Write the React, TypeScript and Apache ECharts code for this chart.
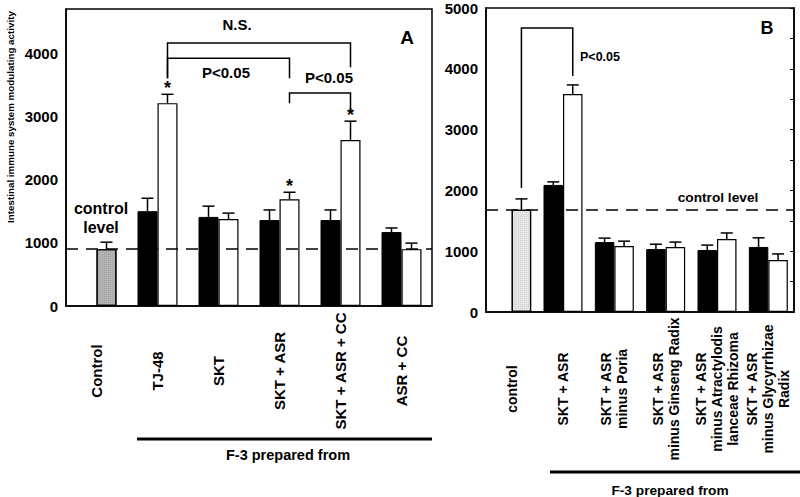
import React, { useEffect, useRef } from "react";
import * as echarts from "echarts";

// ---------- Panel A data ----------
const catsA = ["Control", "TJ-48", "SKT", "SKT + ASR", "SKT + ASR + CC", "ASR + CC"];
const controlA = [900, null, null, null, null, null];
const controlErrA = [110, null, null, null, null, null];
const blackA = [null, 1500, 1410, 1360, 1360, 1170];
const blackErrA = [null, 205, 170, 160, 160, 65];
const whiteA = [null, 3210, 1375, 1690, 2625, 900];
const whiteErrA = [null, 140, 95, 110, 300, 95];
const starsA = [0, 1, 0, 1, 1, 0];
const yMaxA = 4700;
// brackets: [cat1, slot1, end1, cat2, slot2, end2, top]
const bracketsA = [
  [1, 1, 3605, 4, 1, 3780, 4160],
  [1, 1, 3605, 3, 1, 3605, 3920],
  [3, 1, 3210, 4, 1, 3065, 3370],
];

// ---------- Panel B data ----------
const catsB = [
  "control",
  "SKT + ASR",
  "SKT + ASR\nminus Poria",
  "SKT + ASR\nminus Ginseng Radix",
  "SKT + ASR\nminus Atractylodis\nlanceae Rhizoma",
  "SKT + ASR\nminus Glycyrrhizae\nRadix",
];
const controlB = [1680, null, null, null, null, null];
const controlErrB = [180, null, null, null, null, null];
const blackB = [null, 2090, 1150, 1035, 1020, 1070];
const blackErrB = [null, 50, 65, 80, 80, 150];
const whiteB = [null, 3585, 1085, 1070, 1200, 855];
const whiteErrB = [null, 150, 80, 80, 100, 100];
const yMaxB = 5000;
const bracketsB = [[0, 1, 2040, 1, 1, 3880, 4670]];

const FONT = "Liberation Sans";
const BW_A = 20;
const BW_B = 19.5;

function errItems(vals: (number | null)[], errs: (number | null)[], slot: number, stars?: number[]) {
  const out: number[][] = [];
  vals.forEach((v, i) => {
    if (v != null && errs[i] != null) out.push([i, v, errs[i] as number, slot, stars ? stars[i] : 0]);
  });
  return out;
}

function makeErrRender(bw: number) {
  return (params: any, api: any) => {
    const c = api.value(0);
    const v = api.value(1);
    const e = api.value(2);
    const slot = api.value(3);
    const star = api.value(4);
    const base = api.coord([c, v]);
    const top = api.coord([c, v + e]);
    const x = base[0] + (slot * bw) / 2;
    const children: any[] = [
      { type: "line", shape: { x1: x, y1: base[1], x2: x, y2: top[1] }, style: { stroke: "#000", lineWidth: 1.5 } },
      { type: "line", shape: { x1: x - 6, y1: top[1], x2: x + 6, y2: top[1] }, style: { stroke: "#000", lineWidth: 1.5 } },
    ];
    if (star) {
      children.push({
        type: "text",
        x: x,
        y: top[1] + 3,
        style: { text: "*", fontSize: 18, fontWeight: "bold", fontFamily: FONT, fill: "#000", align: "center", verticalAlign: "bottom" },
      });
    }
    return { type: "group", children };
  };
}

function makeBracketRender(bw: number) {
  return (params: any, api: any) => {
    const a = api.coord([api.value(0), api.value(2)]);
    const t = api.coord([api.value(0), api.value(6)]);
    const b = api.coord([api.value(3), api.value(5)]);
    const xa = a[0] + (api.value(1) * bw) / 2;
    const xb = b[0] + (api.value(4) * bw) / 2;
    return {
      type: "polyline",
      shape: { points: [[xa, a[1]], [xa, t[1]], [xb, t[1]], [xb, b[1]]] },
      style: { stroke: "#000", lineWidth: 1.5, fill: null },
    };
  };
}

export default function App() {
  const ref = useRef<HTMLDivElement>(null);

  useEffect(() => {
    if (!ref.current) return;
    const chart = echarts.init(ref.current, null, { renderer: "svg" });

    const axisLabelY = {
      color: "#000",
      fontSize: 15,
      fontWeight: "bold",
      fontFamily: FONT,
      margin: 8,
      formatter: (v: number) => String(v),
    };
    const blackLine = { show: true, lineStyle: { color: "#000", width: 1.5 } };

    const option: any = {
      animation: false,
      backgroundColor: "#fff",
      grid: [
        { left: 66, right: 368, top: 9, bottom: 191, show: true, borderColor: "#000", borderWidth: 1.5, backgroundColor: "transparent" },
        { left: 486, right: 6, top: 8, bottom: 185, show: true, borderColor: "#000", borderWidth: 1.5, backgroundColor: "transparent" },
      ],
      xAxis: [
        {
          type: "category",
          gridIndex: 0,
          data: catsA,
          axisLine: blackLine,
          axisTick: { show: false },
          axisLabel: {
            interval: 0,
            rotate: 90,
            align: "center",
            verticalAlign: "middle",
            margin: 65,
            color: "#000",
            fontSize: 15,
            fontWeight: "bold",
            fontFamily: FONT,
          },
        },
        {
          type: "category",
          gridIndex: 1,
          data: catsB,
          axisLine: blackLine,
          axisTick: { show: false },
          axisLabel: {
            interval: 0,
            rotate: 90,
            align: "center",
            verticalAlign: "middle",
            margin: 77,
            color: "#000",
            fontSize: 14,
            lineHeight: 16,
            fontWeight: "bold",
            fontFamily: FONT,
          },
        },
      ],
      yAxis: [
        {
          type: "value",
          gridIndex: 0,
          min: 0,
          max: yMaxA,
          interval: 1000,
          axisLine: blackLine,
          axisTick: { show: false },
          splitLine: { show: false },
          axisLabel: { ...axisLabelY, showMaxLabel: false },
        },
        {
          type: "value",
          gridIndex: 1,
          min: 0,
          max: yMaxB,
          interval: 1000,
          axisLine: blackLine,
          axisTick: { show: false },
          splitLine: { show: false },
          axisLabel: axisLabelY,
        },
        {
          type: "value",
          gridIndex: 1,
          position: "right",
          min: 0,
          max: yMaxB,
          interval: 500,
          axisLine: blackLine,
          axisTick: { show: true, inside: true, length: 4, lineStyle: { color: "#000", width: 1 } },
          splitLine: { show: false },
          axisLabel: { show: false },
        },
      ],
      series: [
        // ----- Panel A -----
        {
          type: "line",
          xAxisIndex: 0,
          yAxisIndex: 0,
          data: [],
          z: 1,
          markLine: {
            silent: true,
            symbol: "none",
            label: { show: false },
            lineStyle: { color: "#000", width: 1.5, type: [12, 8] },
            data: [{ yAxis: controlA[0] }],
          },
        },
        {
          type: "bar",
          xAxisIndex: 0,
          yAxisIndex: 0,
          data: blackA,
          barWidth: BW_A,
          barGap: "0%",
          z: 3,
          itemStyle: { color: "#000", borderColor: "#000", borderWidth: 1 },
        },
        {
          type: "bar",
          xAxisIndex: 0,
          yAxisIndex: 0,
          stack: "wA",
          data: whiteA,
          barWidth: BW_A,
          barGap: "0%",
          z: 3,
          itemStyle: { color: "#fff", borderColor: "#000", borderWidth: 1.2 },
        },
        {
          type: "bar",
          xAxisIndex: 0,
          yAxisIndex: 0,
          stack: "wA",
          data: controlA,
          barWidth: BW_A,
          barGap: "0%",
          z: 3,
          itemStyle: {
            color: "#b4b4b4",
            borderColor: "#000",
            borderWidth: 1.2,
            decal: { symbol: "rect", symbolSize: 0.6, dashArrayX: [1, 1], dashArrayY: [1, 1], color: "rgba(60,60,60,0.55)", rotation: 0 },
          },
        },
        {
          type: "custom",
          xAxisIndex: 0,
          yAxisIndex: 0,
          z: 4,
          renderItem: makeErrRender(BW_A),
          encode: { x: 0, y: 1 },
          data: [
            ...errItems(controlA, controlErrA, 1),
            ...errItems(blackA, blackErrA, -1),
            ...errItems(whiteA, whiteErrA, 1, starsA),
          ],
        },
        {
          type: "custom",
          xAxisIndex: 0,
          yAxisIndex: 0,
          z: 4,
          renderItem: makeBracketRender(BW_A),
          encode: { x: [0, 3], y: [2, 5, 6] },
          data: bracketsA,
        },
        // ----- Panel B -----
        {
          type: "line",
          xAxisIndex: 1,
          yAxisIndex: 1,
          data: [],
          z: 1,
          markLine: {
            silent: true,
            symbol: "none",
            label: { show: false },
            lineStyle: { color: "#000", width: 1.5, type: [12, 8] },
            data: [{ yAxis: controlB[0] }],
          },
        },
        {
          type: "bar",
          xAxisIndex: 1,
          yAxisIndex: 1,
          data: blackB,
          barWidth: BW_B,
          barGap: "0%",
          z: 3,
          itemStyle: { color: "#000", borderColor: "#000", borderWidth: 1 },
        },
        {
          type: "bar",
          xAxisIndex: 1,
          yAxisIndex: 1,
          stack: "wB",
          data: whiteB,
          barWidth: BW_B,
          barGap: "0%",
          z: 3,
          itemStyle: { color: "#fff", borderColor: "#000", borderWidth: 1.2 },
        },
        {
          type: "bar",
          xAxisIndex: 1,
          yAxisIndex: 1,
          stack: "wB",
          data: controlB,
          barWidth: BW_B,
          barGap: "0%",
          z: 3,
          itemStyle: {
            color: "#e6e6e6",
            borderColor: "#000",
            borderWidth: 1.2,
            decal: { symbol: "rect", symbolSize: 0.6, dashArrayX: [1, 1], dashArrayY: [1, 1], color: "rgba(90,90,90,0.5)", rotation: 0 },
          },
        },
        {
          type: "custom",
          xAxisIndex: 1,
          yAxisIndex: 1,
          z: 4,
          renderItem: makeErrRender(BW_B),
          encode: { x: 0, y: 1 },
          data: [
            ...errItems(controlB, controlErrB, 1),
            ...errItems(blackB, blackErrB, -1),
            ...errItems(whiteB, whiteErrB, 1),
          ],
        },
        {
          type: "custom",
          xAxisIndex: 1,
          yAxisIndex: 1,
          z: 4,
          renderItem: makeBracketRender(BW_B),
          encode: { x: [0, 3], y: [2, 5, 6] },
          data: bracketsB,
        },
      ],
      graphic: [
        // y axis title
        {
          type: "text",
          x: 10,
          y: 117,
          rotation: Math.PI / 2,
          style: {
            text: "Intestinal immune system modulating activity",
            fontSize: 9.8,
            fontWeight: "bold",
            fontFamily: FONT,
            fill: "#000",
            align: "center",
            verticalAlign: "middle",
          },
        },
        // Panel A annotations
        { type: "text", x: 237, y: 24, style: { text: "N.S.", fontSize: 15, fontWeight: "bold", fontFamily: FONT, fill: "#000", align: "center", verticalAlign: "middle" } },
        { type: "text", x: 226, y: 72, style: { text: "P<0.05", fontSize: 15, fontWeight: "bold", fontFamily: FONT, fill: "#000", align: "center", verticalAlign: "middle" } },
        { type: "text", x: 329, y: 77, style: { text: "P<0.05", fontSize: 15, fontWeight: "bold", fontFamily: FONT, fill: "#000", align: "center", verticalAlign: "middle" } },
        { type: "text", x: 407, y: 37, style: { text: "A", fontSize: 19, fontWeight: "bold", fontFamily: FONT, fill: "#000", align: "center", verticalAlign: "middle" } },
        {
          type: "text",
          x: 101,
          y: 218,
          style: { text: "control\nlevel", fontSize: 16, lineHeight: 19, fontWeight: "bold", fontFamily: FONT, fill: "#000", align: "center", verticalAlign: "middle" },
        },
        { type: "line", shape: { x1: 137, y1: 439, x2: 432, y2: 439 }, style: { stroke: "#000", lineWidth: 3 } },
        { type: "text", x: 288, y: 455, style: { text: "F-3 prepared from", fontSize: 14.5, fontWeight: "bold", fontFamily: FONT, fill: "#000", align: "center", verticalAlign: "middle" } },
        // Panel B annotations
        { type: "text", x: 767, y: 28, style: { text: "B", fontSize: 18, fontWeight: "bold", fontFamily: FONT, fill: "#000", align: "center", verticalAlign: "middle" } },
        { type: "text", x: 600, y: 57, style: { text: "P<0.05", fontSize: 12.5, fontWeight: "bold", fontFamily: FONT, fill: "#000", align: "center", verticalAlign: "middle" } },
        { type: "text", x: 718, y: 197, style: { text: "control level", fontSize: 13.7, fontWeight: "bold", fontFamily: FONT, fill: "#000", align: "center", verticalAlign: "middle" } },
        { type: "line", shape: { x1: 550, y1: 472, x2: 800, y2: 472 }, style: { stroke: "#000", lineWidth: 3 } },
        { type: "text", x: 670, y: 490, style: { text: "F-3 prepared from", fontSize: 13.7, fontWeight: "bold", fontFamily: FONT, fill: "#000", align: "center", verticalAlign: "middle" } },
      ],
    };

    chart.setOption(option);
    return () => chart.dispose();
  }, []);

  return <div ref={ref} style={{ width: 800, height: 497, position: "absolute", left: 0, top: 0 }} />;
}
